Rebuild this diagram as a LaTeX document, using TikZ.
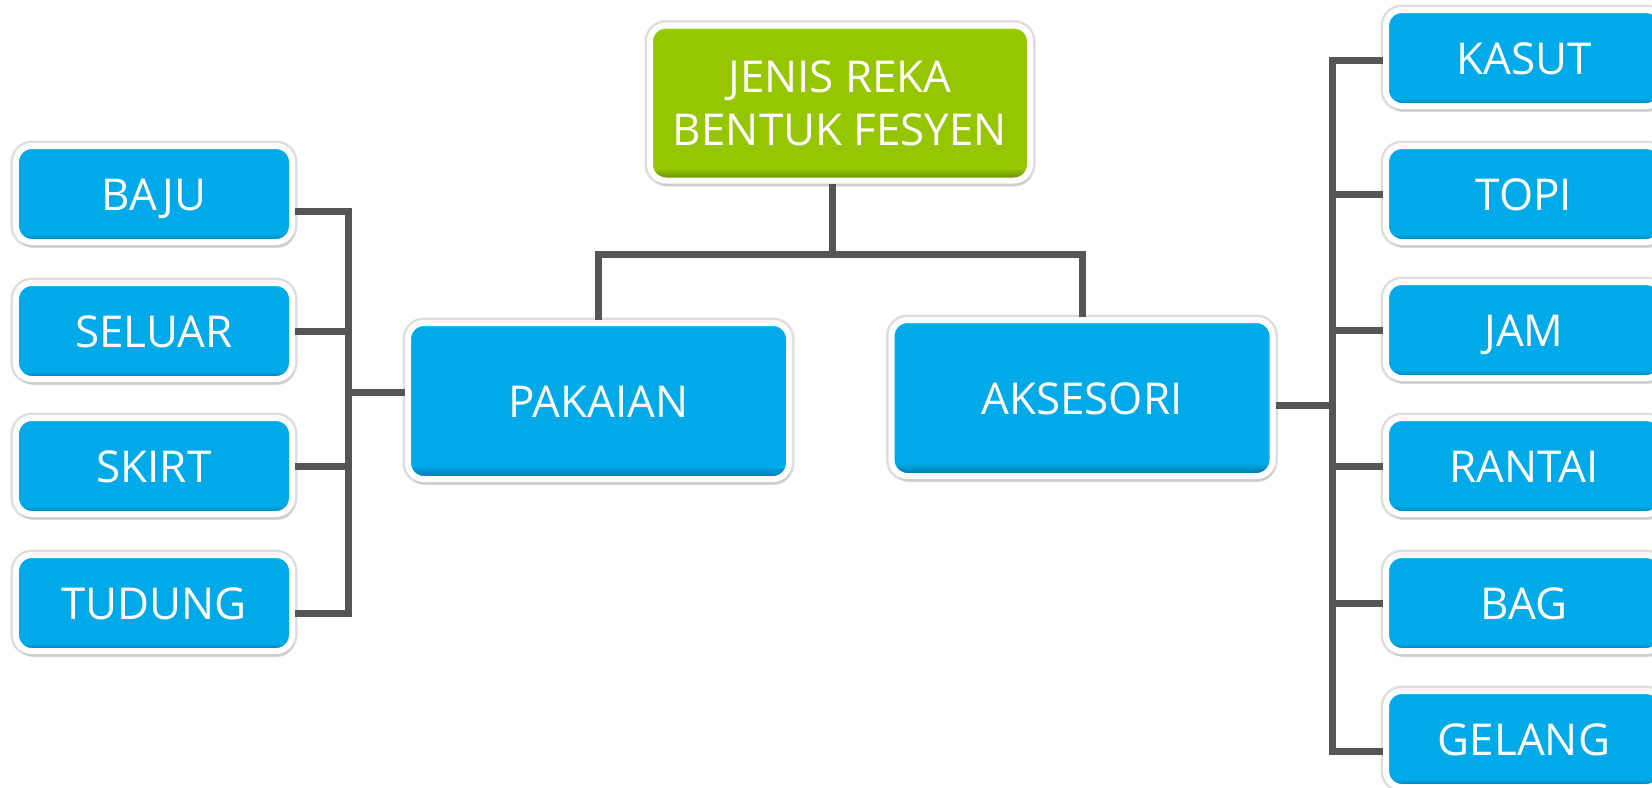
\documentclass[tikz,border=0pt]{standalone}
\usepackage{fontspec}
\setmainfont{Open Sans}
\usetikzlibrary{calc}
\usetikzlibrary{positioning}
\usetikzlibrary{shadows}

\definecolor{bluemid}{RGB}{0,169,231}
\definecolor{bluetop}{RGB}{0,192,255}
\definecolor{bluelow}{RGB}{0,108,160}
\definecolor{greenmid}{RGB}{150,198,0}
\definecolor{greentop}{RGB}{168,220,0}
\definecolor{greenlow}{RGB}{92,134,0}
\definecolor{linegray}{RGB}{85,85,85}
\definecolor{rimgray}{RGB}{222,222,222}

\pgfdeclareverticalshading{blueshade}{100bp}{color(0bp)=(bluelow); color(25bp)=(bluelow); color(29bp)=(bluemid); color(73bp)=(bluemid); color(75bp)=(bluetop); color(100bp)=(bluetop)}
\pgfdeclareverticalshading{greenshade}{100bp}{color(0bp)=(greenlow); color(25bp)=(greenlow); color(29bp)=(greenmid); color(73bp)=(greenmid); color(75bp)=(greentop); color(100bp)=(greentop)}

\begin{document}
\begin{tikzpicture}[
    box/.style={draw=white, line width=0.6mm, rounded corners=1.6mm, shade, shading=blueshade,
        preaction={draw=rimgray, line width=1.1mm},
        text=white, font=\fontsize{12.5}{15}\selectfont, inner sep=0pt,
        drop shadow={opacity=0.18, shadow xshift=0.2mm, shadow yshift=-0.6mm}},
    small/.style={box, minimum width=2.76cm, minimum height=0.96cm, text height=0.32cm, text depth=0pt},
    big/.style={box, minimum width=3.81cm, minimum height=1.56cm, text height=0.32cm, text depth=0pt},
    topbox/.style={box, shading=greenshade, minimum width=3.80cm, minimum height=1.55cm, align=center},
    conn/.style={draw=linegray, line width=0.7mm}
]
\useasboundingbox (0,0) rectangle (16.52,-7.87);
\clip (0,0) rectangle (16.52,-7.87);

% Top box
\node[topbox] (JR) at (8.40,-1.03) {JENIS REKA\\BENTUK FESYEN};

% Second level
\node[big] (PK) at (5.985,-4.01) {PAKAIAN};
\node[big] (AK) at (10.82,-3.98) {AKSESORI};

% Left column
\node[small] (BJ) at (1.54,-1.94) {BAJU};
\node[small] (SL) at (1.54,-3.31) {SELUAR};
\node[small] (SK) at (1.54,-4.66) {SKIRT};
\node[small] (TD) at (1.54,-6.03) {TUDUNG};

% Right column
\node[small] (KS) at (15.24,-0.58) {KASUT};
\node[small] (TP) at (15.24,-1.94) {TOPI};
\node[small] (JM) at (15.24,-3.30) {JAM};
\node[small] (RT) at (15.24,-4.66) {RANTAI};
\node[small] (BG) at (15.24,-6.03) {BAG};
\node[small] (GL) at (15.24,-7.39) {GELANG};

% Bus points
\coordinate (T) at (8.32,-2.54);
\coordinate (LB) at (3.48,-3.92);
\coordinate (RB) at (13.32,-4.05);

% Top to second level
\draw[conn] (PK.north) |- (T) -| (AK.north);
\draw[conn] (T) -- (T |- JR.south);

% Pakaian branch
\draw[conn] ([yshift=0.09cm]PK.west) -- (LB);
\draw[conn] ([yshift=-0.17cm]BJ.east) -| ([yshift=-0.10cm]LB |- TD.east) -- ([yshift=-0.10cm]TD.east);
\draw[conn] (SL.east) -- (SL.east -| LB);
\draw[conn] (SK.east) -- (SK.east -| LB);

% Aksesori branch
\draw[conn] ([yshift=-0.07cm]AK.east) -- (RB);
\draw[conn] ([yshift=-0.02cm]KS.west) -| ([yshift=-0.12cm]RB |- GL.west) -- ([yshift=-0.12cm]GL.west);
\draw[conn] (TP.west) -- (TP.west -| RB);
\draw[conn] (JM.west) -- (JM.west -| RB);
\draw[conn] (RT.west) -- (RT.west -| RB);
\draw[conn] (BG.west) -- (BG.west -| RB);

\end{tikzpicture}
\end{document}
